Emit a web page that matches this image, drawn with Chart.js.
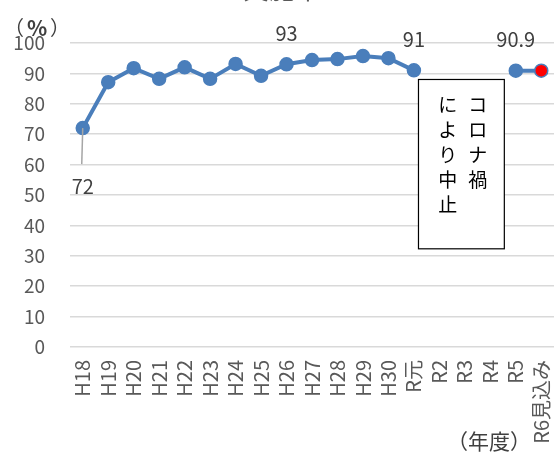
<!DOCTYPE html>
<html lang="ja">
<head>
<meta charset="utf-8">
<script src="https://cdn.jsdelivr.net/npm/chart.js@4/dist/chart.umd.min.js"></script>
<style>
  html, body { margin: 0; padding: 0; background: #ffffff; }
  #wrap { width: 555px; height: 456px; }
</style>
</head>
<body>
<div id="wrap"><canvas id="chart" width="555" height="456"></canvas></div>
<script>
// 年度
const categories = ['H18', 'H19', 'H20', 'H21', 'H22', 'H23', 'H24', 'H25', 'H26', 'H27',
  'H28', 'H29', 'H30', 'R元', 'R2', 'R3', 'R4', 'R5', 'R6見込み'];
// 実施率（%）— R2〜R4 はコロナ禍により中止
const rates = [72, 87.1, 91.7, 88.2, 92.0, 88.2, 93.1, 89.2, 93, 94.4,
  94.7, 95.7, 95.0, 91, null, null, null, 90.9, 90.9];
// 数値を表示する年度（上側 / 下側）
const labelAbove = ['H26', 'R元', 'R5'];
const labelBelow = ['H18'];
// y 軸目盛
const yTicks = [0, 10, 20, 30, 40, 50, 60, 70, 80, 90, 100];
// 見込み値の年度
const forecast = ['R6見込み'];

const FONT = '"Noto Sans CJK JP", "Noto Sans", sans-serif';
const BLUE = '#4a7ebb';

const overlay = {
  id: 'overlay',
  afterDatasetsDraw(chart) {
    const { ctx, chartArea, scales } = chart;
    const xs = scales.x, ys = scales.y;
    const meta = chart.getDatasetMeta(0);
    ctx.save();

    // タイトル（上端）
    ctx.fillStyle = '#595959';
    ctx.font = '26px ' + FONT;
    ctx.textAlign = 'center';
    ctx.textBaseline = 'alphabetic';
    ctx.fillText('実施率', 282, -1);

    // 単位
    ctx.fillStyle = '#404040';
    ctx.textBaseline = 'middle';
    const uy = chartArea.top - 16;
    ctx.font = '20px ' + FONT;
    ctx.fillText('（', chartArea.left - 56, uy);
    ctx.fillText('）', chartArea.left - 10, uy);
    ctx.font = 'bold 21px ' + FONT;
    ctx.fillText('%', chartArea.left - 33, uy + 1);

    ctx.font = '21px ' + FONT;
    ctx.fillText('（年度）', 489, 441);

    // 数値ラベル
    ctx.font = '20px ' + FONT;
    ctx.fillStyle = '#404040';
    labelAbove.forEach(c => {
      const i = categories.indexOf(c);
      const p = meta.data[i];
      ctx.fillText(String(rates[i]), p.x, p.y - 31);
    });
    labelBelow.forEach(c => {
      const i = categories.indexOf(c);
      const p = meta.data[i];
      ctx.strokeStyle = '#a6a6a6';
      ctx.lineWidth = 1.5;
      ctx.beginPath();
      ctx.moveTo(p.x, p.y);
      ctx.lineTo(p.x - 1, p.y + 36);
      ctx.stroke();
      ctx.fillText(String(rates[i]), p.x, p.y + 58);
    });

    // 中止期間の注記
    const step = xs.getPixelForValue(1) - xs.getPixelForValue(0);
    const left = xs.getPixelForValue(categories.indexOf('R元')) + 0.18 * step;
    const right = xs.getPixelForValue(categories.indexOf('R5')) - 0.45 * step;
    const top = ys.getPixelForValue(88);
    const bottom = ys.getPixelForValue(32.3);
    ctx.fillStyle = '#ffffff';
    ctx.fillRect(left, top, right - left, bottom - top);
    ctx.strokeStyle = '#000000';
    ctx.lineWidth = 1.2;
    ctx.strokeRect(left, top, right - left, bottom - top);

    ctx.fillStyle = '#000000';
    ctx.font = '19px ' + FONT;
    ctx.textAlign = 'center';
    ctx.textBaseline = 'middle';
    const cols = ['コロナ禍', 'により中止'];
    const colX = [left + (right - left) * 0.69, left + (right - left) * 0.34];
    cols.forEach((txt, ci) => {
      [...txt].forEach((ch, k) => {
        ctx.fillText(ch, colX[ci], top + 25 + k * 25);
      });
    });
    ctx.restore();
  }
};

new Chart(document.getElementById('chart'), {
  type: 'line',
  data: {
    labels: categories,
    datasets: [{
      data: rates,
      borderColor: BLUE,
      borderWidth: 4,
      pointRadius: 6.5,
      pointHoverRadius: 6.5,
      pointBorderWidth: 1.5,
      pointBorderColor: BLUE,
      pointBackgroundColor: categories.map(c => forecast.includes(c) ? '#ff0000' : BLUE),
      spanGaps: false,
      tension: 0
    }]
  },
  options: {
    responsive: false,
    animation: false,
    layout: { autoPadding: false, padding: { top: 43, right: 1, left: 0, bottom: 0 } },
    plugins: {
      legend: { display: false },
      tooltip: { enabled: false },
      title: { display: false }
    },
    scales: {
      x: {
        offset: true,
        grid: { display: false, drawTicks: false },
        border: { display: false },
        ticks: {
          autoSkip: false,
          minRotation: 90,
          maxRotation: 90,
          padding: 13,
          color: '#595959',
          font: { family: FONT, size: 20 }
        },
        afterFit(s) {
          s.height = 109;
          s.paddingLeft = 0;
          s.paddingRight = 0;
        }
      },
      y: {
        min: 0,
        max: 100,
        afterBuildTicks(s) { s.ticks = yTicks.map(v => ({ value: v })); },
        grid: { color: '#d9d9d9', lineWidth: 1.5, drawTicks: false },
        border: { display: false },
        ticks: {
          padding: 25,
          color: '#595959',
          font: { family: FONT, size: 19 }
        },
        afterFit(s) {
          s.width = 70;
          s.paddingTop = 0;
          s.paddingBottom = 0;
        }
      }
    }
  },
  plugins: [overlay]
});
</script>
</body>
</html>
